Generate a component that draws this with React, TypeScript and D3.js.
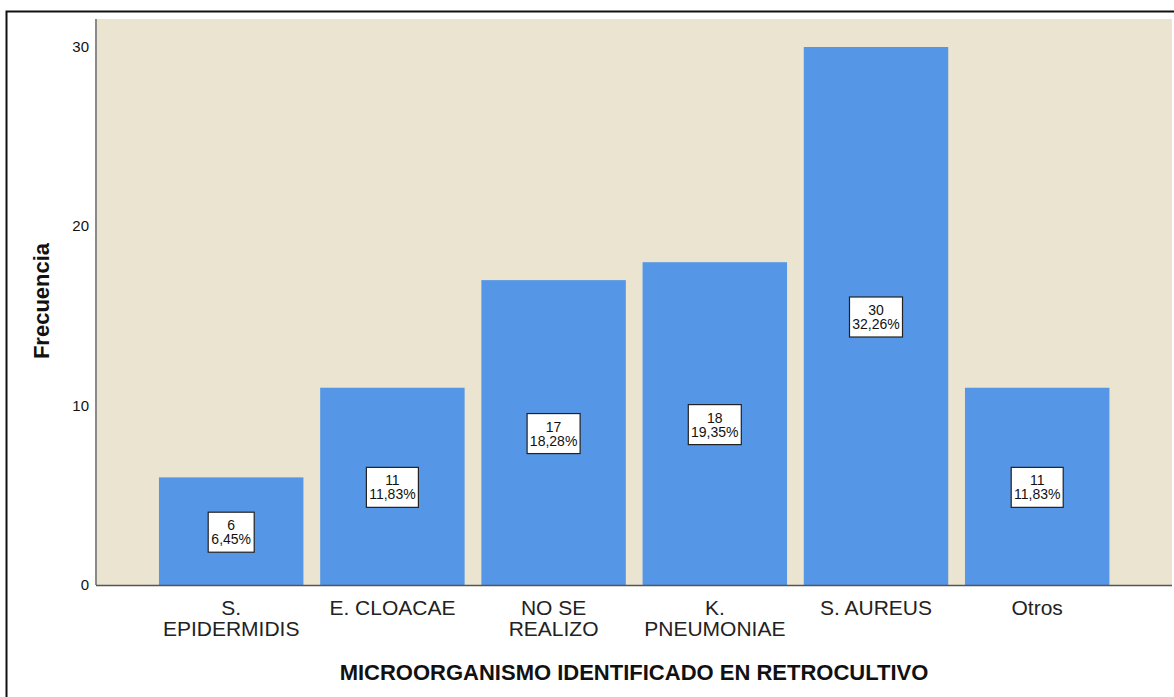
import { useEffect, useRef } from "react"
import * as d3 from "d3"

const categories = [
  ["S.", "EPIDERMIDIS"],
  ["E. CLOACAE"],
  ["NO SE", "REALIZO"],
  ["K.", "PNEUMONIAE"],
  ["S. AUREUS"],
  ["Otros"],
]
const counts = [6, 11, 17, 18, 30, 11]
const percents = ["6,45%", "11,83%", "18,28%", "19,35%", "32,26%", "11,83%"]
const yTicks = [0, 10, 20, 30]

export default function App() {
  const svgRef = useRef<SVGSVGElement>(null)

  useEffect(() => {
    if (!svgRef.current) return
    const W = 1174
    const H = 697
    const svg = d3.select(svgRef.current)
    svg.selectAll("*").remove()
    svg.attr("width", W).attr("height", H)

    const font = "'Liberation Sans', Arial, sans-serif"
    const plot = { left: 96, right: 1172, top: 19, bottom: 585 }

    // outer frame
    svg.append("rect")
      .attr("x", 6.5).attr("y", 11.5)
      .attr("width", W + 10).attr("height", H + 10)
      .attr("fill", "white").attr("stroke", "#111").attr("stroke-width", 2)

    // plot background
    svg.append("rect")
      .attr("x", plot.left).attr("y", plot.top)
      .attr("width", plot.right - plot.left).attr("height", plot.bottom - plot.top)
      .attr("fill", "#EAE4D1")

    const idx = categories.map((_, i) => String(i))
    const step = 161.2
    const x = d3.scaleBand<string>()
      .domain(idx)
      .range([150.6, 150.6 + step * 6])
      .paddingInner(0.104)
      .paddingOuter(0.052)

    const y = d3.scaleLinear().domain([0, 30]).range([plot.bottom, 47])

    // bars
    svg.append("g").selectAll("rect")
      .data(counts)
      .join("rect")
      .attr("x", (_, i) => x(String(i)) ?? 0)
      .attr("y", (d) => y(d))
      .attr("width", x.bandwidth())
      .attr("height", (d) => plot.bottom - y(d))
      .attr("fill", "#5596E6")

    // axes lines
    svg.append("line")
      .attr("x1", plot.left).attr("x2", plot.left)
      .attr("y1", plot.top).attr("y2", plot.bottom)
      .attr("stroke", "#8a8a8a").attr("stroke-width", 2)
    svg.append("line")
      .attr("x1", plot.left).attr("x2", plot.right)
      .attr("y1", plot.bottom + 0.5).attr("y2", plot.bottom + 0.5)
      .attr("stroke", "#555").attr("stroke-width", 1.5)

    // y tick labels
    svg.append("g").selectAll("text")
      .data(yTicks)
      .join("text")
      .attr("x", 89)
      .attr("y", (d) => y(d) + 5)
      .attr("text-anchor", "end")
      .style("font-family", font)
      .style("font-size", "15px")
      .style("fill", "#111")
      .text((d) => d)

    // category labels
    const cat = svg.append("g")
    categories.forEach((lines, i) => {
      const cx = (x(String(i)) ?? 0) + x.bandwidth() / 2
      lines.forEach((ln, j) => {
        cat.append("text")
          .attr("x", cx)
          .attr("y", 615 + j * 21)
          .attr("text-anchor", "middle")
          .style("font-family", font)
          .style("font-size", "21px")
          .style("fill", "#222")
          .text(ln)
      })
    })

    // value labels
    const lab = svg.append("g")
    counts.forEach((c, i) => {
      const cx = (x(String(i)) ?? 0) + x.bandwidth() / 2
      const cy = (y(c) + plot.bottom) / 2 + 1
      const box = lab.append("rect")
        .attr("fill", "white").attr("stroke", "#222").attr("stroke-width", 1.2)
      lab.append("text")
        .attr("x", cx).attr("y", cy - 2)
        .attr("text-anchor", "middle")
        .style("font-family", font).style("font-size", "14px").style("fill", "#111")
        .text(c)
      const t2 = lab.append("text")
        .attr("x", cx).attr("y", cy + 12)
        .attr("text-anchor", "middle")
        .style("font-family", font).style("font-size", "14px").style("fill", "#111")
        .text(percents[i])
      const tw = (t2.node() as SVGTextElement).getComputedTextLength()
      const bw = Math.round(tw + 6)
      box.attr("x", cx - bw / 2).attr("y", cy - 20)
        .attr("width", bw).attr("height", 40)
    })

    // axis titles
    svg.append("text")
      .attr("transform", `translate(49, ${301}) rotate(-90)`)
      .attr("text-anchor", "middle")
      .style("font-family", font).style("font-size", "22px").style("font-weight", "bold")
      .style("fill", "#111")
      .text("Frecuencia")

    svg.append("text")
      .attr("x", 634).attr("y", 680)
      .attr("text-anchor", "middle")
      .style("font-family", font).style("font-size", "22px").style("font-weight", "bold")
      .style("fill", "#111")
      .text("MICROORGANISMO IDENTIFICADO EN RETROCULTIVO")
  }, [])

  return (
    <div style={{ position: "absolute", left: 0, top: 0, width: 1174, height: 697, overflow: "hidden" }}>
      <svg ref={svgRef} style={{ display: "block" }} />
    </div>
  )
}
